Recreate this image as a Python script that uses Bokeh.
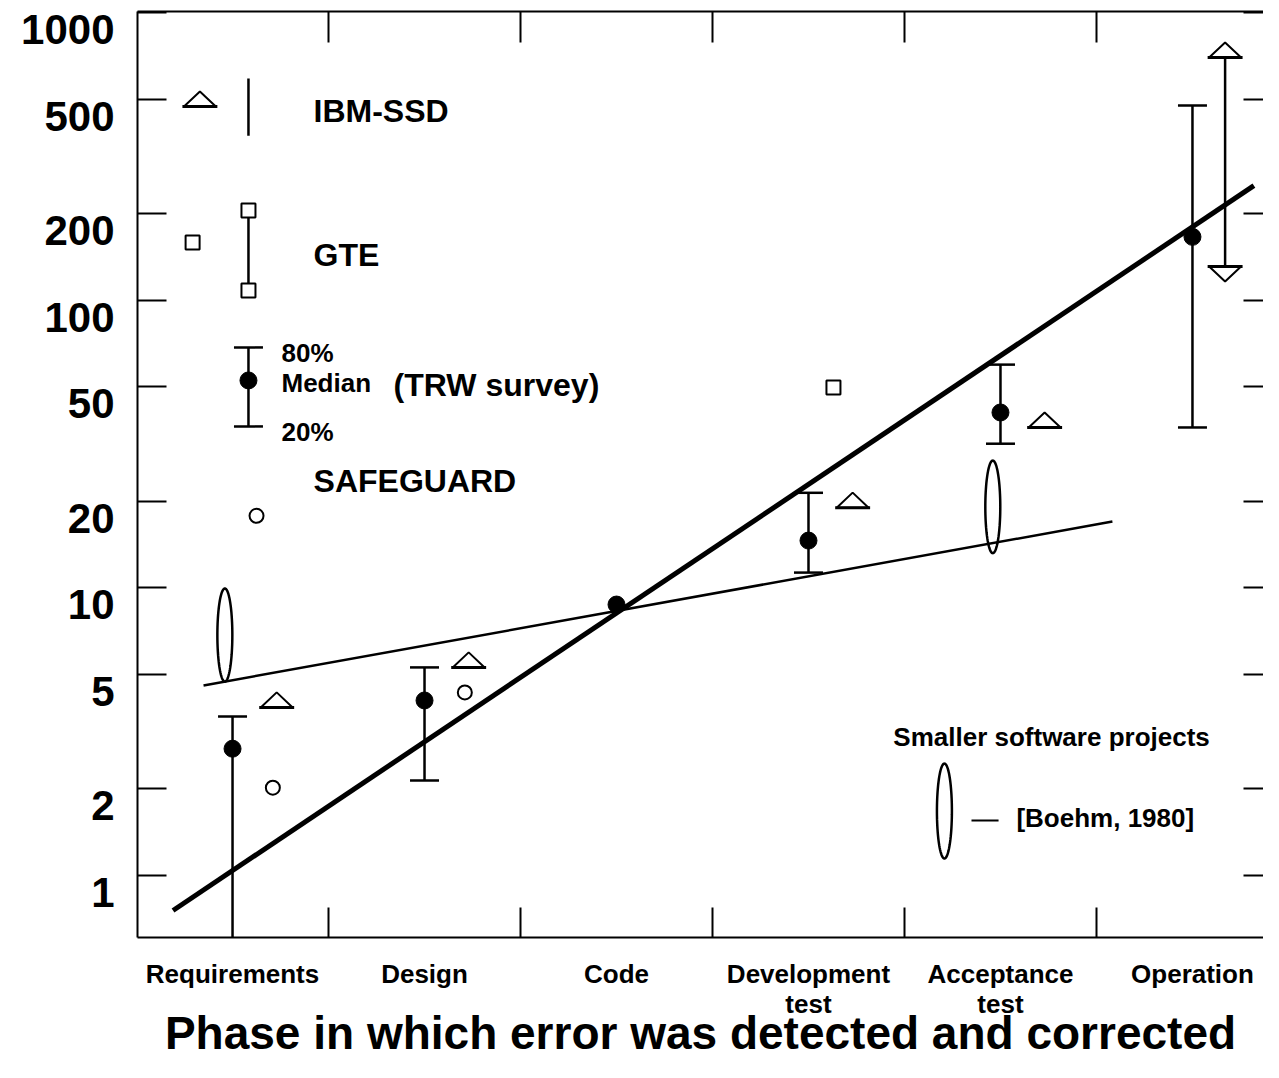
import numpy as np
from bokeh.plotting import figure
from bokeh.models import FixedTicker, LinearAxis, LogAxis, Label, Range1d, PrintfTickFormatter, LogScale
from bokeh.embed import file_html
from bokeh.resources import INLINE

# ---------------- data ----------------
PHASE_LABELS = ["Requirements", "Design", "Code", "Development\ntest", "Acceptance\ntest", "Operation"]
Y_TICKS = [1, 2, 5, 10, 20, 50, 100, 200, 500, 1000]
X_TITLE = "Phase in which error was detected and corrected"

# TRW survey: median, 80% and 20% relative cost to fix (per phase index)
TRW_MEDIAN = [2.76, 4.06, 8.75, 14.6, 40.7, 166.0]
TRW_P80 = [3.57, 5.29, np.nan, 21.4, 59.7, 475.0]
TRW_P20 = [0.5, 2.14, np.nan, 11.3, 31.7, 36.1]

# IBM-SSD
IBM_PHASE = [0, 1, 3, 4]
IBM_VALUE = [3.84, 5.29, 19.0, 36.1]
IBM_RANGE_PHASE = 5
IBM_RANGE = [131.0, 697.0]

# GTE
GTE_PHASE = [3]
GTE_VALUE = [49.7]

# SAFEGUARD
SAFE_PHASE = [0, 1]
SAFE_VALUE = [2.02, 4.33]

# Smaller software projects [Boehm, 1980]
SMALL_PHASE = [0, 4]
SMALL_LOW = [4.72, 13.2]
SMALL_HIGH = [9.95, 27.7]

# trend lines
TREND_LARGE_X = [-0.31, 5.32]
TREND_LARGE_Y = [0.756, 250.0]
TREND_SMALL_X = [-0.151, 4.583]
TREND_SMALL_Y = [4.58, 17.0]

# ---------------- layout / style ----------------
X_RANGE = (-0.495, 5.37)
Y_RANGE = (0.609, 1008.0)
LABEL_SHIFT = 1.146          # y tick labels sit a little below their ticks
FONT = "Liberation Sans"
IBM_DODGE = 0.23
IBM_RANGE_DODGE = 0.17
SAFE_DODGE = 0.21
GTE_DODGE = 0.13
SMALL_DODGE = -0.04
TRI_HW = 0.083
TRI_RATIO = 1.128
ELL_HW = 0.039

p = figure(width=1263, height=1062, x_range=Range1d(*X_RANGE), y_range=Range1d(*Y_RANGE),
           y_axis_type="log", output_backend="svg", toolbar_location=None,
           min_border_left=137, min_border_right=0, min_border_top=11, min_border_bottom=125)
p.outline_line_color = None
p.xgrid.visible = False
p.ygrid.visible = False
p.background_fill_color = "white"
p.border_fill_color = "white"


def style_axis(ax, tick_in, labels=False):
    ax.major_tick_in = tick_in
    ax.major_tick_out = 0
    ax.minor_tick_line_color = None
    ax.major_tick_line_width = 2
    ax.major_tick_line_color = "black"
    ax.axis_line_width = 2
    ax.axis_line_color = "black"
    if not labels:
        ax.major_label_text_font_size = "1px"
        ax.major_label_text_color = None
        ax.major_label_standoff = 0


centers = list(range(len(PHASE_LABELS)))
boundaries = [i + 0.5 for i in range(len(PHASE_LABELS) - 1)]

# bottom axis: labels at phase centres, inward ticks at phase boundaries
xa = p.xaxis[0]
xa.ticker = FixedTicker(ticks=centers, minor_ticks=boundaries)
xa.major_label_overrides = {i: s for i, s in enumerate(PHASE_LABELS)}
xa.major_tick_in = 0
xa.major_tick_out = 0
xa.major_tick_line_color = None
xa.minor_tick_in = 30
xa.minor_tick_out = 0
xa.minor_tick_line_width = 2
xa.minor_tick_line_color = "black"
xa.axis_line_width = 2
xa.axis_line_color = "black"
xa.major_label_standoff = 21
xa.major_label_text_font = FONT
xa.major_label_text_font_style = "bold"
xa.major_label_text_font_size = "26px"
xa.major_label_text_line_height = 1.0
xa.major_label_text_color = "black"
xa.axis_label = X_TITLE
xa.axis_label_standoff = -15
xa.axis_label_text_font = FONT
xa.axis_label_text_font_style = "bold"
xa.axis_label_text_font_size = "46px"
xa.axis_label_text_color = "black"

# left axis: ticks only
ya = p.yaxis[0]
ya.ticker = FixedTicker(ticks=Y_TICKS)
style_axis(ya, 29)

# left labels axis (shifted range so labels sit just below their ticks)
p.extra_y_ranges = {"lbl": Range1d(Y_RANGE[0] * LABEL_SHIFT, Y_RANGE[1] * LABEL_SHIFT)}
p.extra_y_scales = {"lbl": LogScale()}
lab_ax = LogAxis(y_range_name="lbl", ticker=FixedTicker(ticks=Y_TICKS),
                 formatter=PrintfTickFormatter(format="%d"))
lab_ax.major_tick_in = 0
lab_ax.major_tick_out = 0
lab_ax.major_tick_line_color = None
lab_ax.minor_tick_line_color = None
lab_ax.axis_line_color = None
lab_ax.major_label_standoff = 23
lab_ax.major_label_text_font = FONT
lab_ax.major_label_text_font_style = "bold"
lab_ax.major_label_text_font_size = "42px"
lab_ax.major_label_text_color = "black"
p.add_layout(lab_ax, "left")

top_ax = LinearAxis(ticker=FixedTicker(ticks=boundaries))
style_axis(top_ax, 31)
p.add_layout(top_ax, "above")

right_ax = LogAxis(ticker=FixedTicker(ticks=Y_TICKS))
style_axis(right_ax, 20)
right_ax.axis_line_color = None
p.add_layout(right_ax, "right")


def text(x, y, s, size, align="left"):
    p.add_layout(Label(x=x, y=y, text=s, text_align=align,
                       text_baseline="middle", text_font=FONT, text_font_style="bold",
                       text_font_size=size, text_color="black"))


# ---------------- trend lines ----------------
p.line(TREND_LARGE_X, TREND_LARGE_Y, line_width=5, line_color="black")
p.line(TREND_SMALL_X, TREND_SMALL_Y, line_width=2.5, line_color="black")


def tri(x, base, up=True):
    tip = base * TRI_RATIO if up else base / TRI_RATIO
    return [x - TRI_HW, x, x + TRI_HW], [base, tip, base]


def ell(x, lo, hi, n=90):
    t = np.linspace(0, 2 * np.pi, n)
    c = (np.log10(lo) + np.log10(hi)) / 2
    r = (np.log10(hi) - np.log10(lo)) / 2
    return list(x + ELL_HW * np.cos(t)), list(10 ** (c + r * np.sin(t)))


def draw_triangles(items):
    xs, ys, bx0, bx1, by = [], [], [], [], []
    for x, base, up in items:
        a, b = tri(x, base, up)
        xs.append(a)
        ys.append(b)
        bx0.append(x - TRI_HW - 0.008)
        bx1.append(x + TRI_HW + 0.008)
        by.append(base)
    p.patches(xs, ys, fill_color=None, line_color="black", line_width=2)
    p.segment(x0=bx0, y0=by, x1=bx1, y1=by, line_color="black", line_width=3)


def draw_ellipses(items):
    xs, ys = [], []
    for x, lo, hi in items:
        a, b = ell(x, lo, hi)
        xs.append(a)
        ys.append(b)
    p.patches(xs, ys, fill_color=None, line_color="black", line_width=2.5)


def draw_whiskers(x, lo, hi):
    p.segment(x0=x, y0=lo, x1=x, y1=hi, line_color="black", line_width=2.5)
    p.scatter(x=list(x) + list(x), y=list(lo) + list(hi), marker="dash", size=29,
              line_color="black", line_width=2.5)


# ---------------- data marks ----------------
draw_ellipses([(ph + SMALL_DODGE, lo, hi) for ph, lo, hi in zip(SMALL_PHASE, SMALL_LOW, SMALL_HIGH)])

idx = [i for i in range(len(TRW_MEDIAN)) if not np.isnan(TRW_P80[i])]
draw_whiskers(idx, [TRW_P20[i] for i in idx], [TRW_P80[i] for i in idx])
p.scatter(x=list(range(len(TRW_MEDIAN))), y=TRW_MEDIAN, marker="circle", size=17,
          fill_color="black", line_color="black")

ibm_items = [(ph + IBM_DODGE, v, True) for ph, v in zip(IBM_PHASE, IBM_VALUE)]
xr = IBM_RANGE_PHASE + IBM_RANGE_DODGE
ibm_items += [(xr, IBM_RANGE[1], True), (xr, IBM_RANGE[0], False)]
p.segment(x0=[xr], y0=[IBM_RANGE[0]], x1=[xr], y1=[IBM_RANGE[1]], line_color="black", line_width=2.5)
draw_triangles(ibm_items)

p.scatter(x=[ph + GTE_DODGE for ph in GTE_PHASE], y=GTE_VALUE, marker="square", size=14,
          fill_color="white", line_color="black", line_width=2)

p.scatter(x=[ph + SAFE_DODGE for ph in SAFE_PHASE], y=SAFE_VALUE, marker="circle", size=14,
          fill_color="white", line_color="black", line_width=2)

# ---------------- legend (inside plot) ----------------
LX_SYM = -0.17
LX_BAR = 0.083
LX_TXT = 0.422
draw_triangles([(LX_SYM, 471, True)])
p.segment(x0=[LX_BAR], y0=[373], x1=[LX_BAR], y1=[590], line_color="black", line_width=2.5)
text(LX_TXT, 456, "IBM-SSD", "32px")

p.segment(x0=[LX_BAR], y0=[108], x1=[LX_BAR], y1=[205], line_color="black", line_width=2.5)
p.scatter(x=[-0.208, LX_BAR, LX_BAR], y=[158.6, 108, 205], marker="square", size=14,
          fill_color="white", line_color="black", line_width=2)
text(LX_TXT, 143, "GTE", "32px")

draw_whiskers([LX_BAR], [36.4], [68.5])
p.scatter(x=[LX_BAR], y=[52.6], marker="circle", size=17, fill_color="black", line_color="black")
text(0.255, 65.6, "80%", "26px")
text(0.255, 51.5, "Median", "26px")
text(0.255, 34.7, "20%", "26px")
text(0.839, 50.7, "(TRW survey)", "32px")

text(LX_TXT, 23.6, "SAFEGUARD", "32px")
p.scatter(x=[0.125], y=[17.8], marker="circle", size=14, fill_color="white",
          line_color="black", line_width=2)

text(4.266, 3.02, "Smaller software projects", "26px", align="center")
draw_ellipses([(3.708, 1.146, 2.45)])
p.segment(x0=[3.849], y0=[1.553], x1=[3.99], y1=[1.553], line_color="black", line_width=2)
text(4.083, 1.59, "[Boehm, 1980]", "26px")

open("out.html", "w").write(file_html(p, INLINE))
